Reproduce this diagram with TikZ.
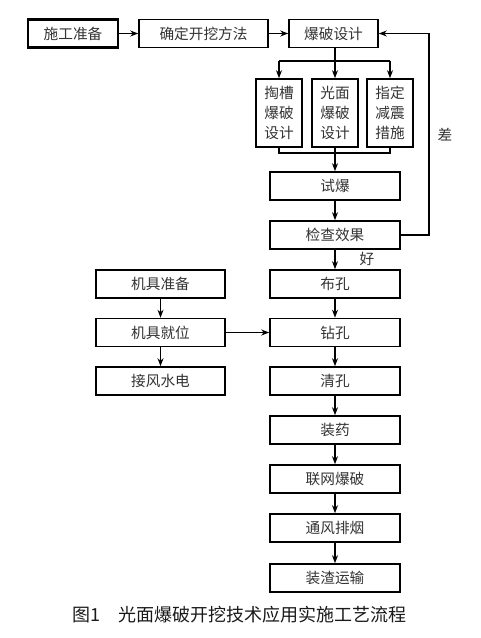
\documentclass[tikz,border=0pt]{standalone}
\usepackage{fontspec}
\setmainfont{Noto Sans CJK SC}
\usetikzlibrary{arrows.meta}

\begin{document}
\begin{tikzpicture}[
  x=0.75pt, y=-0.75pt,
  every node/.style={font=\fontsize{11}{15}\selectfont, text=black!80, inner sep=0pt},
  box/.style={draw=black, line width=1.2pt, minimum height=21pt},
  wide/.style={box, minimum width=97.5pt},
  tallbox/.style={box, minimum width=34.5pt, minimum height=51pt, align=center},
  flow/.style={line width=0.9pt, -{Stealth[length=6pt,width=4.5pt]}},
  link/.style={line width=0.9pt}
]
\useasboundingbox (0,0) rectangle (480,638);

% top row
\node[box, minimum width=67.5pt, line width=1.6pt] (prep) at (73,33.5) {施工准备};
\node[box, minimum width=96.75pt] (method) at (203.5,33.5) {确定开挖方法};
\node[box, minimum width=66.75pt] (design) at (333.5,33.5) {爆破设计};

% three design parts
\node[tallbox] (cut) at (279,113) {掏槽\\爆破\\设计};
\node[tallbox] (smooth) at (335,113) {光面\\爆破\\设计};
\node[tallbox] (damp) at (390,113) {指定\\减震\\措施};

% main column
\node[wide] (trial) at (335,186) {试爆};
\node[wide] (check) at (335,235) {检查效果};
\node[wide] (layout) at (335,284) {布孔};
\node[wide] (drill) at (335,332.5) {钻孔};
\node[wide] (clean) at (335,381) {清孔};
\node[wide] (charge) at (335,430) {装药};
\node[wide] (blast) at (335,479) {联网爆破};
\node[wide] (vent) at (335,528) {通风排烟};
\node[wide] (muck) at (335,578) {装渣运输};

% equipment column
\node[box, minimum width=96.75pt] (eqprep) at (160.5,284) {机具准备};
\node[box, minimum width=96.75pt] (eqpos) at (160.5,332.5) {机具就位};
\node[box, minimum width=96.75pt] (power) at (160.5,381) {接风水电};

\node (bad) at (445,135) {差};
\node (good) at (367,259) {好};
\node[font=\fontsize{13.5}{15}\selectfont, text=black!90, anchor=west] (title) at (72,615) {图1\hspace{1em}光面爆破开挖技术应用实施工艺流程};

% connectors
\draw[flow] (prep) -- (method);
\draw[flow] (method) -- (design);

\coordinate (split) at (335,61);
\coordinate (join) at (335,153);
\draw[link] (design.south -| split) -- (split);
\draw[link] (split -| cut) -- (split -| damp);
\draw[flow] (split -| cut) -- (cut);
\draw[flow] (split) -- (smooth);
\draw[flow] (split -| damp) -- (damp);
\draw[link] (cut.south) |- (join) -| (damp.south);
\draw[link] (smooth.south) -- (join);
\draw[flow] (join) -- (trial);

\draw[flow] (trial) -- (check);
\draw[flow] (check) -- (layout);
\draw[flow] (layout) -- (drill);
\draw[flow] (drill) -- (clean);
\draw[flow] (clean) -- (charge);
\draw[flow] (charge) -- (blast);
\draw[flow] (blast) -- (vent);
\draw[flow] (vent) -- (muck);

\coordinate (back) at (429,33.5);
\draw[line width=0.8pt, -{Stealth[length=6pt,width=4.5pt]}] (check.east) -| (back) -- (design.east);

\draw[flow] (eqprep) -- (eqpos);
\draw[flow] (eqpos) -- (power);
\draw[flow] (eqpos) -- (drill);
\end{tikzpicture}
\end{document}
